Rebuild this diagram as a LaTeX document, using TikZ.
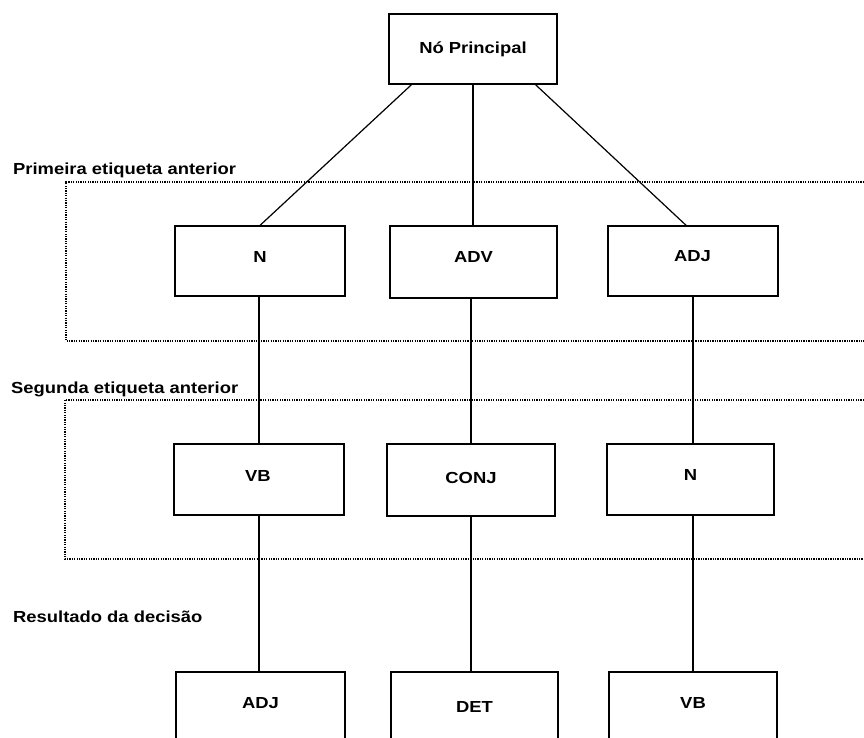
\documentclass[tikz,border=0pt]{standalone}
\usepackage{fontspec}
\setmainfont{Liberation Sans}[FakeStretch=1.15]
\usetikzlibrary{calc}

\tikzset{
  tagbox/.style={draw=black, line width=1.2pt, fill=white, rectangle, inner sep=0pt},
  tagtext/.style={inner sep=0pt, text height=11.5pt, text depth=0pt,
                  font=\bfseries\fontsize{16}{19}\selectfont},
  zone/.style={draw=black, line width=1.5pt, dash pattern=on 1.3pt off 1.1pt},
  link/.style={draw=black, line width=1.2pt},
}

\begin{document}
\begin{tikzpicture}[x=1pt, y=-1pt]
  \useasboundingbox (0,0) rectangle (864,738);
  \clip (0,0) rectangle (864,738);

  % dotted bands grouping the two context levels
  \draw[zone] (900,182) -- (66,182) -- (66,341) -- (900,341);
  \draw[zone] (900,400) -- (65,400) -- (65,559) -- (900,559);

  % band titles
  \node[tagtext, anchor=west] (t1) at (13,168.5) {Primeira etiqueta anterior};
  \node[tagtext, anchor=west] (t2) at (11,388) {Segunda etiqueta anterior};
  \node[tagtext, anchor=west] (t3) at (13,617) {Resultado da decisão};

  % root
  \node[tagbox, minimum width=168pt, minimum height=70pt] (root) at (473,49) {};
  \node[tagtext] (troot) at (473,47.5) {Nó Principal};

  % first previous tag
  \node[tagbox, minimum width=170pt, minimum height=70pt] (n1) at (260,261) {};
  \node[tagtext] (tn1) at (260,257) {N};
  \node[tagbox, minimum width=167pt, minimum height=72pt] (adv) at (473.5,262) {};
  \node[tagtext] (tadv) at (473.5,257) {ADV};
  \node[tagbox, minimum width=170pt, minimum height=70pt] (adj1) at (693,261) {};
  \node[tagtext] (tadj1) at (692.5,256) {ADJ};

  % second previous tag
  \node[tagbox, minimum width=170pt, minimum height=71pt] (vb) at (259,479.5) {};
  \node[tagtext] (tvb) at (258,476) {VB};
  \node[tagbox, minimum width=168pt, minimum height=72pt] (conj) at (471,480) {};
  \node[tagtext] (tconj) at (471,478) {CONJ};
  \node[tagbox, minimum width=167pt, minimum height=71pt] (n2) at (690.5,479.5) {};
  \node[tagtext] (tn2) at (690.5,475) {N};

  % decision
  \node[tagbox, minimum width=169pt, minimum height=70pt] (adj3) at (260.5,707) {};
  \node[tagtext] (tadj3) at (260.5,703) {ADJ};
  \node[tagbox, minimum width=167pt, minimum height=70pt] (det) at (474.5,707) {};
  \node[tagtext] (tdet) at (474.5,707) {DET};
  \node[tagbox, minimum width=168pt, minimum height=70pt] (vb3) at (693,707) {};
  \node[tagtext] (tvb3) at (693,703) {VB};

  % branches from the root
  \draw[link] ($(root.south west)!0.137!(root.south east)$) -- (n1.north);
  \draw[link] (root.south) -- (root.south |- adv.north);
  \draw[link] ($(root.south west)!0.869!(root.south east)$) -- ($(adj1.north west)!0.46!(adj1.north east)$);

  % first level to second level
  \draw[link] (n1.south -| vb.north) -- (vb.north);
  \draw[link] (adv.south -| conj.north) -- (conj.north);
  \draw[link] (adj1.south) -- (adj1.south |- n2.north);

  % second level to decision
  \draw[link] (vb.south) -- (vb.south |- adj3.north);
  \draw[link] (conj.south) -- (conj.south |- det.north);
  \draw[link] (n2.south -| vb3.north) -- (vb3.north);
\end{tikzpicture}
\end{document}
